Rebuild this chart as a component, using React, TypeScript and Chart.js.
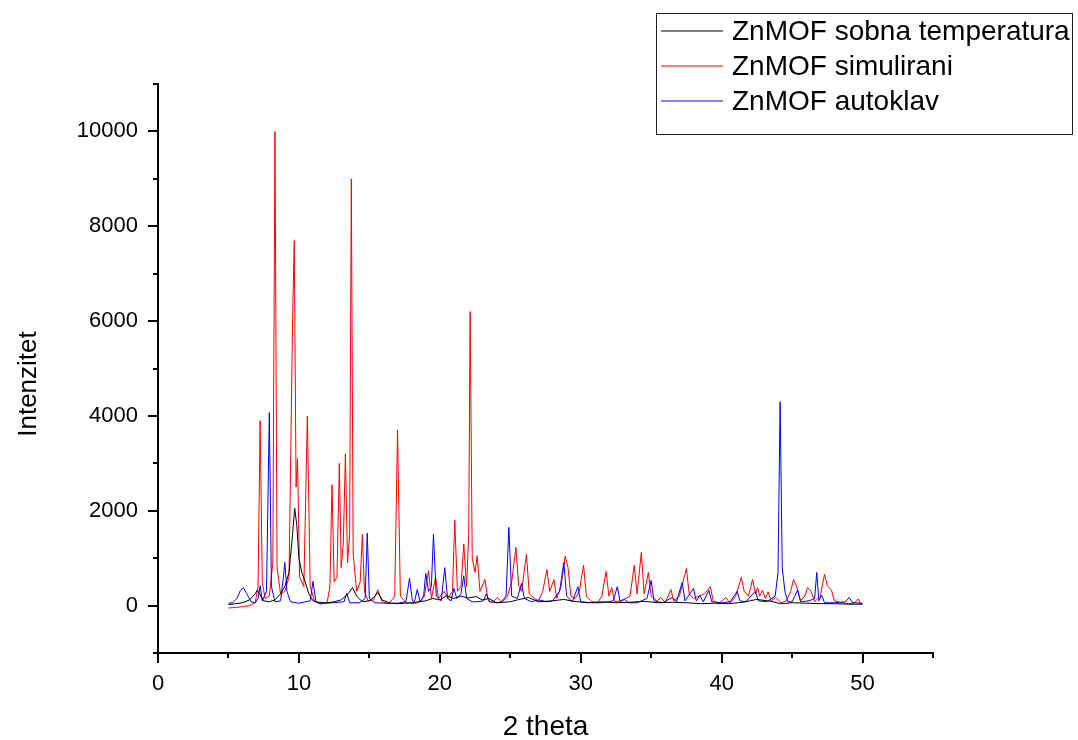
import React, { useEffect, useRef } from 'react';
import { Chart, registerables } from 'chart.js';

Chart.register(...registerables);

const FONT = '"Liberation Sans", Arial, Helvetica, sans-serif';

const seriesLabels = ['ZnMOF sobna temperatura', 'ZnMOF simulirani', 'ZnMOF autoklav'];
const seriesColors = ['#000000', '#ff0000', '#0000ff'];
const xAxisTitle = '2 theta';
const yAxisTitle = 'Intenzitet';

const xTickValues = [0, 5, 10, 15, 20, 25, 30, 35, 40, 45, 50, 55];
const xTickLabels = ['0', '', '10', '', '20', '', '30', '', '40', '', '50', ''];
const yTickValues = [-1000, 0, 1000, 2000, 3000, 4000, 5000, 6000, 7000, 8000, 9000, 10000, 11000];
const yTickLabels = ['', '0', '', '2000', '', '4000', '', '6000', '', '8000', '', '10000', ''];

// ZnMOF sobna temperatura (black)
const roomTheta = [5.0, 5.5, 6.0, 6.5, 6.9, 7.05, 7.2, 7.5, 7.9, 8.3, 8.7, 9.0, 9.3, 9.55, 9.7, 9.85, 10.0, 10.2, 10.45, 10.7, 11.0, 11.5, 12.0, 12.5, 13.0, 13.5, 13.8, 14.1, 14.5, 15.0, 15.4, 15.6, 15.9, 16.5, 17.0, 18.0, 19.0, 19.5, 20.0, 20.5, 21.0, 21.5, 22.0, 22.6, 23.0, 23.5, 24.0, 25.0, 25.5, 26.3, 27.0, 28.0, 28.8, 29.5, 30.5, 31.5, 32.5, 33.5, 34.5, 35.5, 36.5, 37.5, 38.5, 39.5, 40.5, 41.5, 42.5, 43.5, 44.2, 45.0, 46.0, 47.0, 48.0, 49.0, 50.0];
const roomIntensity = [20, 40, 60, 120, 250, 330, 250, 100, 80, 120, 250, 400, 700, 1500, 2050, 1700, 1000, 700, 500, 250, 100, 50, 60, 80, 120, 250, 380, 200, 80, 100, 200, 280, 120, 50, 40, 60, 100, 150, 120, 210, 150, 200, 160, 190, 120, 150, 60, 80, 120, 170, 80, 100, 130, 90, 60, 80, 60, 70, 90, 60, 70, 60, 40, 50, 40, 70, 130, 90, 40, 60, 50, 40, 40, 30, 30];

// ZnMOF simulirani (red)
const simTheta = [5.0, 5.5, 6.0, 6.5, 6.9, 7.1, 7.25, 7.4, 7.6, 7.9, 8.15, 8.3, 8.45, 8.7, 9.0, 9.3, 9.55, 9.67, 9.8, 9.9, 10.05, 10.35, 10.6, 10.8, 11.1, 11.5, 12.0, 12.2, 12.35, 12.5, 12.7, 12.87, 13.0, 13.15, 13.3, 13.45, 13.6, 13.72, 13.85, 14.1, 14.35, 14.5, 14.65, 14.9, 15.3, 15.6, 15.9, 16.4, 16.8, 17.0, 17.2, 17.6, 18.2, 18.6, 18.9, 19.2, 19.4, 19.7, 19.9, 20.3, 20.6, 20.9, 21.06, 21.25, 21.5, 21.7, 21.9, 22.05, 22.15, 22.3, 22.5, 22.65, 22.85, 23.2, 23.4, 23.7, 24.1, 24.4, 24.8, 25.1, 25.4, 25.6, 25.8, 26.15, 26.35, 26.7, 27.0, 27.3, 27.6, 27.8, 28.1, 28.3, 28.6, 28.9, 29.1, 29.3, 29.6, 29.9, 30.2, 30.4, 30.8, 31.2, 31.5, 31.8, 32.0, 32.2, 32.4, 32.8, 33.2, 33.5, 33.8, 34.0, 34.3, 34.5, 34.8, 35.0, 35.4, 35.7, 36.0, 36.4, 36.6, 37.0, 37.5, 37.7, 38.0, 38.4, 38.8, 39.2, 39.4, 39.8, 40.3, 40.6, 41.0, 41.4, 41.6, 41.9, 42.2, 42.4, 42.55, 42.7, 42.9, 43.1, 43.3, 43.5, 43.85, 44.2, 44.6, 44.9, 45.1, 45.3, 45.6, 45.9, 46.1, 46.35, 46.6, 47.0, 47.3, 47.5, 47.8, 48.0, 48.5, 49.0, 49.4, 49.7, 49.85, 50.0];
const simIntensity = [-50, -40, -20, 0, 60, 400, 3900, 500, 150, 200, 900, 10000, 800, 250, 300, 600, 6000, 7700, 2500, 3100, 600, 400, 4000, 400, 100, 30, 60, 400, 2550, 500, 600, 3000, 800, 1300, 3200, 900, 1500, 9000, 1100, 300, 500, 1500, 300, 100, 120, 330, 80, 40, 200, 3700, 200, 60, 40, 80, 200, 740, 150, 600, 150, 300, 150, 300, 1800, 300, 400, 1300, 400, 1500, 6200, 1000, 700, 1050, 300, 550, 150, 60, 170, 60, 200, 500, 1230, 400, 300, 1080, 250, 150, 100, 300, 760, 300, 550, 150, 400, 1040, 800, 200, 150, 300, 850, 200, 80, 60, 200, 720, 200, 380, 80, 100, 150, 200, 850, 250, 1120, 250, 700, 200, 100, 170, 60, 340, 100, 200, 780, 250, 150, 200, 250, 400, 100, 40, 170, 50, 200, 600, 300, 200, 550, 250, 380, 200, 320, 150, 290, 100, 170, 60, 100, 300, 550, 420, 100, 200, 380, 300, 80, 200, 660, 420, 320, 100, 60, 40, 50, 140, 40, 40];

// ZnMOF autoklav (blue)
const autoTheta = [5.0, 5.3, 5.6, 5.85, 6.05, 6.3, 6.6, 6.9, 7.1, 7.25, 7.4, 7.7, 7.9, 8.05, 8.3, 8.7, 8.9, 9.0, 9.15, 9.4, 10.0, 10.8, 11.0, 11.2, 12.0, 13.2, 13.4, 13.6, 14.3, 14.7, 14.85, 15.0, 15.4, 16.0, 17.0, 17.6, 17.85, 18.05, 18.2, 18.4, 18.6, 18.85, 19.0, 19.2, 19.4, 19.55, 19.75, 20.1, 20.35, 20.55, 20.8, 21.0, 21.2, 21.5, 21.7, 21.9, 22.3, 22.7, 23.1, 23.3, 23.5, 24.3, 24.7, 24.9, 25.1, 25.5, 25.8, 26.0, 26.5, 27.0, 27.6, 28.0, 28.5, 28.8, 29.0, 29.4, 29.8, 30.0, 30.8, 31.5, 32.3, 32.6, 32.8, 33.1, 33.4, 34.0, 34.7, 35.0, 35.2, 35.8, 36.5, 36.8, 37.2, 37.4, 38.0, 38.2, 38.45, 38.7, 39.1, 39.3, 40.0, 40.6, 41.1, 41.3, 41.7, 42.4, 42.6, 43.2, 43.8, 44.0, 44.15, 44.3, 44.5, 44.7, 45.0, 45.4, 45.6, 46.2, 46.6, 46.75, 46.9, 47.1, 47.3, 48.0, 48.8, 49.05, 49.3, 50.0];
const autoIntensity = [50, 60, 150, 320, 380, 250, 80, 60, 150, 420, 100, 300, 4070, 400, 80, 100, 600, 910, 300, 80, 50, 100, 510, 80, 50, 80, 260, 60, 60, 150, 1530, 150, 60, 50, 50, 80, 580, 100, 80, 340, 80, 200, 680, 300, 400, 1500, 200, 100, 800, 150, 100, 360, 150, 250, 630, 150, 80, 80, 100, 250, 80, 60, 200, 1650, 200, 150, 470, 150, 80, 120, 80, 100, 300, 910, 200, 80, 400, 80, 60, 60, 100, 400, 80, 130, 60, 60, 150, 530, 100, 60, 170, 80, 490, 100, 360, 100, 210, 80, 320, 80, 60, 80, 300, 100, 80, 300, 100, 80, 200, 700, 4300, 800, 280, 80, 80, 330, 80, 100, 150, 700, 100, 220, 60, 60, 80, 170, 60, 50];

const X_MIN = 0;
const X_MAX = 55;
const Y_MIN = -1000;
const Y_MAX = 11000;

const toPoints = (xs: number[], ys: number[]) => xs.map((x, i) => ({ x, y: ys[i] }));

const decorPlugin = {
  id: 'decor',
  afterDraw(chart: any) {
    const { ctx, chartArea, scales } = chart;
    const xs = scales.x;
    const ys = scales.y;
    ctx.save();
    // tick marks (major / minor), outward
    ctx.strokeStyle = '#000';
    ctx.lineWidth = 2;
    ctx.beginPath();
    yTickValues.forEach((v, i) => {
      const p = Math.round(ys.getPixelForValue(v));
      const len = yTickLabels[i] !== '' ? 10 : 5;
      ctx.moveTo(chartArea.left - len, p);
      ctx.lineTo(chartArea.left, p);
    });
    xTickValues.forEach((v, i) => {
      const p = Math.round(xs.getPixelForValue(v));
      const len = xTickLabels[i] !== '' ? 10 : 5;
      ctx.moveTo(p, chartArea.bottom);
      ctx.lineTo(p, chartArea.bottom + len);
    });
    ctx.stroke();

    // axis titles
    ctx.fillStyle = '#000';
    ctx.font = `28px ${FONT}`;
    ctx.textAlign = 'center';
    ctx.textBaseline = 'alphabetic';
    ctx.fillText(xAxisTitle, (chartArea.left + chartArea.right) / 2, 735);
    ctx.save();
    ctx.translate(36, 384);
    ctx.rotate(-Math.PI / 2);
    ctx.font = `26px ${FONT}`;
    ctx.fillText(yAxisTitle, 0, 0);
    ctx.restore();

    // legend box
    ctx.lineWidth = 1;
    ctx.strokeStyle = '#222';
    ctx.strokeRect(656.5, 13.5, 416, 121);
    ctx.font = `28px ${FONT}`;
    ctx.textAlign = 'left';
    ctx.textBaseline = 'middle';
    const rows = [31, 66, 101];
    seriesLabels.forEach((label, i) => {
      ctx.strokeStyle = seriesColors[i];
      ctx.lineWidth = 1.2;
      ctx.beginPath();
      ctx.moveTo(661, rows[i]);
      ctx.lineTo(723, rows[i]);
      ctx.stroke();
      ctx.fillStyle = '#000';
      ctx.fillText(label, 732, rows[i] + 1);
    });
    ctx.restore();
  },
};

export default function App() {
  const canvasRef = useRef<HTMLCanvasElement | null>(null);

  useEffect(() => {
    if (!canvasRef.current) return;
    const chart = new Chart(canvasRef.current, {
      type: 'line',
      data: {
        datasets: [
          {
            label: seriesLabels[0],
            data: toPoints(roomTheta, roomIntensity),
            borderColor: seriesColors[0],
            borderWidth: 1,
            pointRadius: 0,
            tension: 0,
            order: 0,
          },
          {
            label: seriesLabels[1],
            data: toPoints(simTheta, simIntensity),
            borderColor: seriesColors[1],
            borderWidth: 1,
            pointRadius: 0,
            tension: 0,
            order: 2,
          },
          {
            label: seriesLabels[2],
            data: toPoints(autoTheta, autoIntensity),
            borderColor: seriesColors[2],
            borderWidth: 1,
            pointRadius: 0,
            tension: 0,
            order: 1,
          },
        ],
      },
      options: {
        responsive: false,
        animation: false,
        layout: { padding: { top: 84, right: 145, left: 0, bottom: 0 } },
        plugins: {
          legend: { display: false },
          tooltip: { enabled: false },
        },
        scales: {
          x: {
            type: 'linear',
            min: X_MIN,
            max: X_MAX,
            afterFit: (s: any) => { s.height = 87; },
            afterBuildTicks: (s: any) => { s.ticks = xTickValues.map((v) => ({ value: v })); },
            grid: { display: true, drawOnChartArea: false, drawTicks: false, color: 'rgba(0,0,0,0)' },
            border: { display: true, color: '#000', width: 2 },
            ticks: {
              autoSkip: false,
              maxRotation: 0,
              padding: 18,
              color: '#000',
              font: { family: FONT, size: 22 },
              callback: (_v: any, i: number) => xTickLabels[i],
            },
          },
          y: {
            type: 'linear',
            min: Y_MIN,
            max: Y_MAX,
            afterFit: (s: any) => { s.width = 158; },
            afterBuildTicks: (s: any) => { s.ticks = yTickValues.map((v) => ({ value: v })); },
            grid: { display: true, drawOnChartArea: false, drawTicks: false, color: 'rgba(0,0,0,0)' },
            border: { display: true, color: '#000', width: 2 },
            ticks: {
              autoSkip: false,
              padding: 20,
              color: '#000',
              font: { family: FONT, size: 22 },
              callback: (_v: any, i: number) => yTickLabels[i],
            },
          },
        },
      },
      plugins: [decorPlugin],
    });
    return () => chart.destroy();
  }, []);

  return (
    <div style={{ position: 'fixed', left: 0, top: 0, width: 1078, height: 740, background: '#fff' }}>
      <canvas ref={canvasRef} width={1078} height={740} style={{ display: 'block' }} />
    </div>
  );
}
